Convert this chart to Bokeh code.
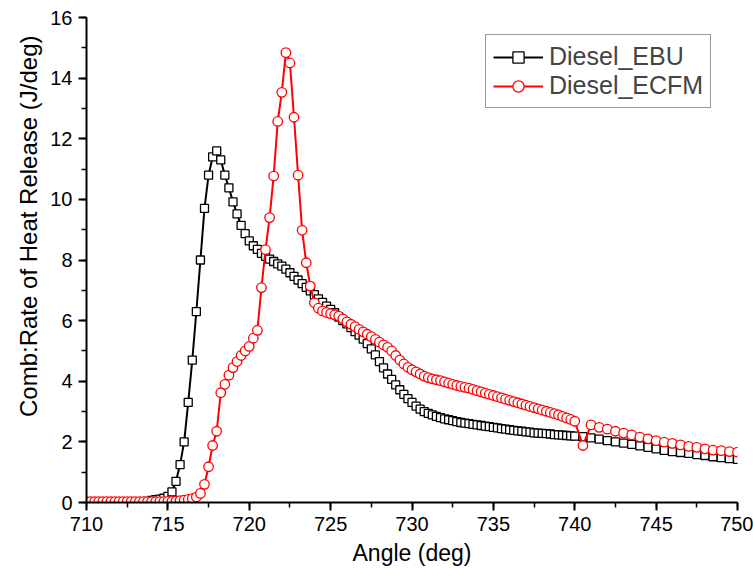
from bokeh.plotting import figure
from bokeh.models import Range1d, SingleIntervalTicker, Legend, LegendItem, Title
from bokeh.embed import file_html
from bokeh.resources import INLINE

# Crank angle (deg) of the sampled points
ANGLE = [
    710.0, 710.25, 710.5, 710.75,
    711.0, 711.25, 711.5, 711.75,
    712.0, 712.25, 712.5, 712.75,
    713.0, 713.25, 713.5, 713.75,
    714.0, 714.25, 714.5, 714.75,
    715.0, 715.25, 715.5, 715.75,
    716.0, 716.25, 716.5, 716.75,
    717.0, 717.25, 717.5, 717.75,
    718.0, 718.25, 718.5, 718.75,
    719.0, 719.25, 719.5, 719.75,
    720.0, 720.25, 720.5, 720.75,
    721.0, 721.25, 721.5, 721.75,
    722.0, 722.25, 722.5, 722.75,
    723.0, 723.25, 723.5, 723.75,
    724.0, 724.25, 724.5, 724.75,
    725.0, 725.25, 725.5, 725.75,
    726.0, 726.25, 726.5, 726.75,
    727.0, 727.25, 727.5, 727.75,
    728.0, 728.25, 728.5, 728.75,
    729.0, 729.25, 729.5, 729.75,
    730.0, 730.25, 730.5, 730.75,
    731.0, 731.25, 731.5, 731.75,
    732.0, 732.25, 732.5, 732.75,
    733.0, 733.25, 733.5, 733.75,
    734.0, 734.25, 734.5, 734.75,
    735.0, 735.25, 735.5, 735.75,
    736.0, 736.25, 736.5, 736.75,
    737.0, 737.25, 737.5, 737.75,
    738.0, 738.25, 738.5, 738.75,
    739.0, 739.25, 739.5, 739.75,
    740.0, 740.5, 741.0, 741.5, 742.0, 742.5, 743.0, 743.5, 744.0, 744.5,
    745.0, 745.5, 746.0, 746.5, 747.0, 747.5, 748.0, 748.5, 749.0, 749.5, 750.0,
]

# Diesel_EBU rate of heat release (J/deg)
EBU = [
    0.0, 0.0, 0.0, 0.0,
    0.0, 0.0, 0.0, 0.0,
    0.0, 0.0, 0.0, 0.0,
    0.0, 0.0, 0.02, 0.04,
    0.07, 0.09, 0.11, 0.14,
    0.2, 0.35, 0.7, 1.25,
    2.0, 3.3, 4.7, 6.3,
    8.0, 9.7, 10.8, 11.4,
    11.6, 11.3, 10.8, 10.38,
    9.92, 9.52, 9.14, 8.87,
    8.63, 8.47, 8.35, 8.22,
    8.12, 8.03, 7.95, 7.87,
    7.8, 7.7, 7.58, 7.46,
    7.34, 7.22, 7.1, 6.98,
    6.86, 6.72, 6.6, 6.48,
    6.37, 6.26, 6.12, 6.0,
    5.89, 5.77, 5.64, 5.52,
    5.39, 5.24, 5.07, 4.87,
    4.65, 4.44, 4.24, 4.06,
    3.88, 3.72, 3.57, 3.43,
    3.3, 3.18, 3.08, 3.0,
    2.94, 2.89, 2.84, 2.8,
    2.76, 2.73, 2.7, 2.67,
    2.64, 2.62, 2.6, 2.58,
    2.56, 2.54, 2.52, 2.5,
    2.48, 2.46, 2.44, 2.42,
    2.40, 2.38, 2.36, 2.35,
    2.33, 2.32, 2.3, 2.29,
    2.28, 2.27, 2.26, 2.24,
    2.23, 2.22, 2.21, 2.2,
    2.19, 2.17, 2.13, 2.09, 2.04, 2.0, 1.96, 1.92, 1.87, 1.82,
    1.77, 1.72, 1.68, 1.65, 1.62, 1.58, 1.55, 1.51, 1.48, 1.45, 1.42,
]

# Diesel_ECFM rate of heat release (J/deg)
ECFM = [
    0.03, 0.03, 0.03, 0.03,
    0.03, 0.03, 0.03, 0.03,
    0.03, 0.03, 0.03, 0.03,
    0.03, 0.03, 0.03, 0.03,
    0.03, 0.03, 0.03, 0.03,
    0.04, 0.04, 0.05, 0.06,
    0.08, 0.1, 0.13, 0.18,
    0.3, 0.6, 1.18, 1.88,
    2.35, 3.62, 3.9, 4.2,
    4.45, 4.65, 4.85, 5.0,
    5.15, 5.42, 5.68, 7.09,
    8.34, 9.4, 10.77, 12.57,
    13.53, 14.84, 14.5, 12.71,
    10.8, 8.98, 7.91, 7.14,
    6.59, 6.41, 6.32, 6.27,
    6.23, 6.19, 6.15, 6.06,
    5.96, 5.88, 5.8, 5.71,
    5.63, 5.55, 5.47, 5.38,
    5.29, 5.2, 5.12, 5.0,
    4.85, 4.7, 4.57, 4.46,
    4.38, 4.31, 4.24, 4.17,
    4.12, 4.08, 4.05, 4.02,
    3.98, 3.94, 3.9, 3.86,
    3.83, 3.8, 3.77, 3.73,
    3.69, 3.65, 3.61, 3.57,
    3.53, 3.49, 3.45, 3.41,
    3.37, 3.33, 3.29, 3.25,
    3.21, 3.17, 3.13, 3.09,
    3.05, 3.01, 2.97, 2.93,
    2.89, 2.84, 2.79, 2.74,
    2.68, 1.88, 2.56, 2.48, 2.42, 2.35, 2.29, 2.23, 2.16, 2.1,
    2.04, 1.99, 1.95, 1.9, 1.85, 1.82, 1.77, 1.73, 1.71, 1.68, 1.66,
]

SERIES_NAMES = ["Diesel_EBU", "Diesel_ECFM"]
X_LABEL = "Angle (deg)"
Y_LABEL = "Comb:Rate of Heat Release (J/deg)"

FONT = "Liberation Sans"

p = figure(width=753, height=576, output_backend="svg", toolbar_location=None,
           x_range=Range1d(710, 750), y_range=Range1d(0, 16),
           min_border_left=86, min_border_right=16, min_border_top=17, min_border_bottom=74)
p.outline_line_color = None
p.xgrid.visible = False
p.ygrid.visible = False
p.background_fill_color = "white"
p.border_fill_color = "white"

p.xaxis.ticker = SingleIntervalTicker(interval=5, num_minor_ticks=2)
p.yaxis.ticker = SingleIntervalTicker(interval=2, num_minor_ticks=2)

for ax in (p.xaxis, p.yaxis):
    ax.axis_line_width = 2
    ax.axis_line_color = "black"
    ax.major_tick_line_width = 2
    ax.minor_tick_line_width = 1.5
    ax.major_tick_line_color = "black"
    ax.minor_tick_line_color = "black"
    ax.major_tick_out = 8
    ax.major_tick_in = 0
    ax.minor_tick_out = 5
    ax.minor_tick_in = 0
    ax.major_label_text_font = FONT
    ax.major_label_text_font_size = "20px"
    ax.major_label_text_color = "black"
    ax.axis_label_text_font = FONT
    ax.axis_label_text_font_style = "normal"
    ax.axis_label_text_font_size = "23px"
    ax.axis_label_text_color = "black"

p.xaxis.major_label_standoff = 6
p.xaxis.axis_label = X_LABEL
p.xaxis.axis_label_standoff = 6
p.yaxis.major_label_standoff = 6

ytitle = Title(text=Y_LABEL, align="right", offset=18, standoff=11,
               text_font=FONT, text_font_size="24px", text_font_style="normal",
               text_color="black")
p.add_layout(ytitle, "left")

l1 = p.line(ANGLE, EBU, line_color="black", line_width=2)
s1 = p.scatter(ANGLE, EBU, marker="square", size=8, fill_color="white",
               line_color="black", line_width=1.3)
l2 = p.line(ANGLE, ECFM, line_color="#ff0000", line_width=2)
s2 = p.scatter(ANGLE, ECFM, marker="circle", size=9.5, fill_color="white",
               line_color="#ff0000", line_width=1.3)

legend = Legend(items=[LegendItem(label=SERIES_NAMES[0], renderers=[l1, s1]),
                       LegendItem(label=SERIES_NAMES[1], renderers=[l2, s2])],
                location=(399, 394), margin=0, padding=7, spacing=0,
                glyph_width=50, glyph_height=28, label_height=28, label_standoff=6,
                label_text_font=FONT, label_text_font_size="25px",
                border_line_color="#333333", border_line_width=1.5,
                background_fill_alpha=1.0)
p.add_layout(legend)

open("out.html", "w").write(file_html(p, INLINE))
